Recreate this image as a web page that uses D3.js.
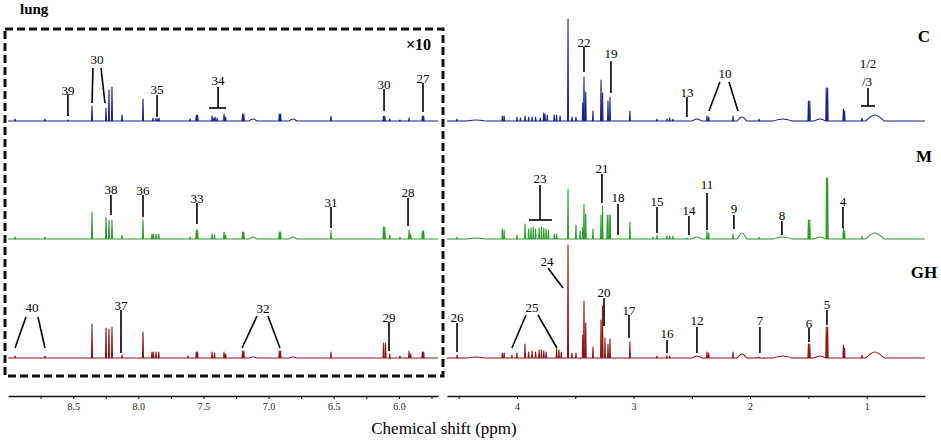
<!DOCTYPE html>
<html>
<head>
<meta charset="utf-8">
<script src="https://cdn.jsdelivr.net/npm/d3@7"></script>
<style>
body { margin: 0; background: #fff; }
svg text { font-family: 'Liberation Serif', 'Times New Roman', Times, 'DejaVu Serif', serif !important; }
</style>
</head>
<body>
<svg id="chart" width="941" height="444"></svg>
<script>
// spectra rows, top to bottom
var rows = ["C", "M", "GH"];

// tick labels of the two axis pieces (ppm)
var leftTicks = [8.5, 8.0, 7.5, 7.0, 6.5, 6.0];
var leftMinor = [8.75, 8.25, 7.75, 7.25, 6.75, 6.25, 5.75];
var rightTicks = [4, 3, 2, 1];
var rightMinor = [4.5, 3.5, 2.5, 1.5];

// peaks: [ppm, intensity, half width in ppm (broad bumps only)]
// left part (aromatic) is shown x10
var cPeaks = [
  [8.946,2],[8.716,2],[8.54,1],[8.355,15],[8.248,13],[8.225,31],[8.202,34],[8.125,6],[7.964,22],
  [7.887,3],[7.864,3],[7.849,2],[7.841,3],[7.603,2],[7.555,6],[7.545,6],[7.434,5],[7.42,3],[7.411,4],
  [7.395,3],[7.342,7],[7.33,4],[7.2,7],[7.19,7],[7.12,2,0.03],[6.918,7],[6.908,7],[6.813,2,0.03],
  [6.521,5],[6.118,5],[6.108,5],[6.07,2],[5.992,1],[5.922,3],[5.82,5],[5.81,5],
  [4.514,2],[4.35,1,0.08],[4.125,5],[4.11,5],[4.0,4],[3.97,3],[3.93,5],[3.9,4],[3.87,4],[3.84,4],
  [3.8,3],[3.77,8],[3.76,7],[3.74,6],[3.68,6],[3.66,6],[3.63,5],[3.562,102],[3.528,4],[3.494,4],
  [3.436,18],[3.425,44],[3.41,29],[3.348,10],[3.279,41],[3.266,28],[3.219,20],[3.202,24],[3.031,10],
  [2.799,2],[2.713,2],[2.69,3],[2.662,2],[2.456,2,0.04],[2.37,5],[2.355,4],[2.147,5],[2.07,4,0.04],
  [1.924,2],[1.72,2,0.08],[1.5,20],[1.488,20],[1.401,2,0.05],[1.347,33],[1.335,33],[1.2,12],[1.19,10],
  [1.041,3],[0.93,6,0.08]
];
var mPeaks = [
  [8.946,2],[8.716,2],[8.355,27],[8.248,22],[8.225,19],[8.202,19],[8.125,4],[7.964,19],[7.895,5],
  [7.884,5],[7.864,5],[7.843,5],[7.603,2],[7.555,9],[7.545,9],[7.434,5],[7.415,4],[7.342,7],[7.33,4],
  [7.2,7],[7.19,7],[7.12,2,0.03],[6.918,7],[6.908,7],[6.813,2,0.03],[6.521,8],[6.118,12],[6.108,12],
  [6.07,4],[5.992,2],[5.922,9],[5.91,5],[5.82,8],[5.81,8],
  [4.514,2],[4.35,1,0.08],[4.125,10],[4.11,9],[4.0,4],[3.931,15],[3.9,10],[3.88,11],[3.86,12],
  [3.84,10],[3.81,11],[3.79,12],[3.77,11],[3.75,10],[3.73,9],[3.68,5],[3.66,5],[3.562,50],[3.494,14],
  [3.459,8],[3.436,12],[3.425,35],[3.41,25],[3.348,10],[3.279,24],[3.266,33],[3.225,24],[3.21,24],
  [3.2,24],[3.031,17],[2.833,2],[2.799,4],[2.713,3],[2.69,3],[2.662,3],[2.542,1],[2.456,2,0.04],
  [2.37,8],[2.355,6],[2.147,5],[2.07,6,0.04],[1.924,2],[1.72,2,0.08],[1.5,19],[1.488,19],
  [1.401,2,0.05],[1.345,61],[1.335,61],[1.2,11],[1.19,8],[1.041,3],[0.93,6,0.08]
];
var ghPeaks = [
  [8.946,2],[8.716,2],[8.355,34],[8.248,30],[8.225,29],[8.202,31],[8.125,3],[7.964,26],[7.895,6],
  [7.884,6],[7.864,6],[7.843,6],[7.619,2],[7.555,6],[7.545,6],[7.434,6],[7.415,5],[7.342,6],[7.33,4],
  [7.2,7],[7.19,7],[7.12,1,0.03],[6.918,7],[6.908,7],[6.813,1,0.03],[6.521,6],[6.118,15],[6.103,15],
  [6.07,4],[5.992,2],[5.922,7],[5.91,4],[5.82,6],[5.81,6],
  [4.514,3],[4.35,1,0.08],[4.125,5],[4.11,5],[4.043,3],[4.0,5],[3.931,14],[3.9,6],[3.87,7],[3.84,6],
  [3.81,8],[3.79,8],[3.77,7],[3.75,6],[3.66,9],[3.64,8],[3.62,6],[3.562,113],[3.528,5],[3.494,5],
  [3.436,23],[3.425,57],[3.41,35],[3.348,11],[3.279,38],[3.266,52],[3.245,20],[3.219,14],[3.202,19],
  [3.031,16],[2.799,2],[2.713,2],[2.69,2],[2.456,2,0.04],[2.37,6],[2.355,5],[2.147,6],[2.07,4,0.04],
  [1.924,1],[1.72,2,0.08],[1.5,14],[1.488,14],[1.401,2,0.05],[1.347,31],[1.335,31],[1.2,13],[1.19,10],
  [1.041,3],[0.93,6,0.08]
];

// peak labels: [text, ppm, label height, line top, line bottom]
var cLabels = [["39",8.54,31,27,5],["35",7.856,32,26,4],["30",6.114,37,32,10],["27",5.815,43,38,9],
  ["22",3.425,79,74,49],["19",3.194,68,60,28],["13",2.542,29,24,4]];
var mLabels = [["38",8.21,50,44,24],["36",7.964,49,44,22],["33",7.55,41,36,15],["31",6.521,37,32,11],
  ["28",5.93,47,41,13],["21",3.271,71,65,36],["18",3.133,42,35,4],["15",2.799,38,32,6],
  ["14",2.525,29,23,4],["11",2.37,55,46,9],["9",2.139,31,24,10],["8",1.727,24,18,4],["4",1.204,38,32,11]];
var ghLabels = [["37",8.133,53,48,5],["29",6.076,41,36,7],["26",4.514,41,35,6],["20",3.253,66,60,32],
  ["17",3.039,48,43,20],["16",2.713,25,18,5],["12",2.456,38,31,5],["7",1.916,38,31,5],
  ["6",1.495,35,30,16],["5",1.341,54,48,33]];
// bracket labels: [text, ppm, label height, line top, line bottom, bar from, bar to]
var cBars = [["34",7.388,41,34,13,7.457,7.327],["1/2",0.989,58,33,15,1.049,0.929]];
var mBars = [["23",3.802,61,54,19,3.897,3.70]];
// split labels: [text, ppm, label height, line top, line bottom, top1, bottom1, top2, bottom2]
var cSplit = [["30",8.317,62,53,18,8.348,8.355,8.286,8.256],["10",2.216,48,39,10,2.259,2.353,2.181,2.104]];
var ghSplit = [["40",8.816,51,41,10,8.862,8.946,8.77,8.716],["32",7.043,50,42,10,7.089,7.204,7.005,6.913],
  ["25",3.871,51,43,10,3.922,4.043,3.820,3.657]];
var ghSlant = [["24",3.742,97,90,70,3.734,3.605]];

var peakSets = [cPeaks, mPeaks, ghPeaks];
var labelSets = [cLabels, mLabels, ghLabels];
var barSets = [cBars, mBars, []];
var splitSets = [cSplit, [], ghSplit];
var colors = ["#1f1f8e", "#2e9a2e", "#8e1515"];
var baselines = [121, 239, 358];
var serif = "'Liberation Serif', 'Times New Roman', Times, 'DejaVu Serif', serif";

var svg = d3.select("#chart").attr("font-family", serif);

var xL = d3.scaleLinear().domain([9.0, 5.7]).range([8, 438]);
var xR = d3.scaleLinear().domain([4.6, 0.5]).range([447, 925]);
var y = d3.scaleLinear().domain([0, 120]).range([0, -120]);

function xs(ppm) { return ppm > 5 ? xL(ppm) : xR(ppm); }

var spikeLine = d3.line()
  .x(function(d) { return xs(d[0]); })
  .y(function(d) { return y(d[1]); });
var humpLine = d3.line()
  .x(function(d) { return xs(d[0]); })
  .y(function(d) { return y(d[1]); })
  .curve(d3.curveMonotoneX);

// dashed box round the x10 part
svg.append("rect")
  .attr("x", 5).attr("y", 29).attr("width", 438).attr("height", 347)
  .attr("fill", "none").attr("stroke", "#111").attr("stroke-width", 3)
  .attr("stroke-dasharray", "8,4");

svg.append("text").attr("x", 20).attr("y", 14).attr("font-family", serif)
  .style("font-size", "15px").style("font-weight", "bold").text("lung");
svg.append("text").attr("x", 431).attr("y", 50).attr("text-anchor", "end").attr("font-family", serif)
  .style("font-size", "16px").style("font-weight", "bold").text("×10");

rows.forEach(function(name, i) {
  var g = svg.append("g").attr("transform", "translate(0," + baselines[i] + ")");
  var col = colors[i];
  var humps = peakSets[i].filter(function(p) { return p[2]; });

  // baseline of both parts, broken where a broad bump rises out of it
  [[9.0, 5.7], [4.6, 0.5]].forEach(function(seg) {
    var start = seg[0];
    humps.filter(function(p) { return p[0] < seg[0] && p[0] > seg[1]; })
      .sort(function(a, b) { return b[0] - a[0]; })
      .forEach(function(p) {
        g.append("path").attr("d", spikeLine([[start, 0], [p[0] + p[2], 0]]))
          .attr("fill", "none").attr("stroke", col).attr("stroke-width", 1.1);
        start = p[0] - p[2];
      });
    g.append("path").attr("d", spikeLine([[start, 0], [seg[1], 0]]))
      .attr("fill", "none").attr("stroke", col).attr("stroke-width", 1.1);
  });

  // peaks
  peakSets[i].forEach(function(p) {
    var w = p[2] || 0.004;
    var pts = [[p[0] + w, 0], [p[0], p[1]], [p[0] - w, 0]];
    g.append("path")
      .attr("d", (p[2] ? humpLine : spikeLine)(pts))
      .attr("fill", "none").attr("stroke", col).attr("stroke-width", 1.1)
      .attr("stroke-linejoin", "round");
  });

  // row name
  svg.append("text").attr("x", 924).attr("y", [42, 162, 278][i]).attr("text-anchor", "middle")
    .attr("font-family", serif)
    .style("font-size", "17px").style("font-weight", "bold").text(name);

  var ann = g.append("g").attr("stroke", "#000").attr("stroke-width", 1.6);
  function label(t, ppm, h) {
    g.append("text").attr("x", xs(ppm)).attr("y", y(h)).attr("dy", "0.35em")
      .attr("font-family", serif)
      .attr("text-anchor", "middle").style("font-size", "13px").text(t);
  }

  labelSets[i].forEach(function(a) {
    label(a[0], a[1], a[2]);
    ann.append("line").attr("x1", xs(a[1])).attr("x2", xs(a[1]))
      .attr("y1", y(a[3])).attr("y2", y(a[4]));
  });
  barSets[i].forEach(function(a) {
    label(a[0], a[1], a[2]);
    ann.append("line").attr("x1", xs(a[1])).attr("x2", xs(a[1]))
      .attr("y1", y(a[3])).attr("y2", y(a[4]));
    ann.append("line").attr("x1", xs(a[5])).attr("x2", xs(a[6]))
      .attr("y1", y(a[4])).attr("y2", y(a[4]));
  });
  splitSets[i].forEach(function(a) {
    label(a[0], a[1], a[2]);
    ann.append("line").attr("x1", xs(a[5])).attr("x2", xs(a[6]))
      .attr("y1", y(a[3])).attr("y2", y(a[4]));
    ann.append("line").attr("x1", xs(a[7])).attr("x2", xs(a[8]))
      .attr("y1", y(a[3])).attr("y2", y(a[4]));
  });
  if (i === 0) label("/3", 0.997, 40);
  if (i === 2) {
    ghSlant.forEach(function(a) {
      label(a[0], a[1], a[2]);
      ann.append("line").attr("x1", xs(a[5])).attr("x2", xs(a[6]))
        .attr("y1", y(a[3])).attr("y2", y(a[4]));
    });
  }
});

// axes
function drawAxis(scale, major, minor, fmt) {
  var ax = d3.axisBottom(scale)
    .tickValues(major.concat(minor).sort(d3.descending))
    .tickSize(3).tickSizeOuter(0)
    .tickFormat(function(d) { return major.indexOf(d) >= 0 ? fmt(d) : ""; });
  var a = svg.append("g").attr("transform", "translate(0,396)").call(ax)
    .attr("font-family", serif);
  a.select(".domain").attr("stroke", "#111").attr("stroke-width", 1.6);
  a.selectAll(".tick line").attr("stroke", "#111");
  a.selectAll(".tick text").attr("fill", "#222").attr("y", 7)
    .style("font-size", "10px");
}
drawAxis(xL, leftTicks, leftMinor, d3.format(".1f"));
drawAxis(xR, rightTicks, rightMinor, d3.format("d"));

svg.append("text").attr("x", 444).attr("y", 434).attr("text-anchor", "middle")
  .attr("font-family", serif)
  .style("font-size", "17px").text("Chemical shift (ppm)");
</script>
</body>
</html>
